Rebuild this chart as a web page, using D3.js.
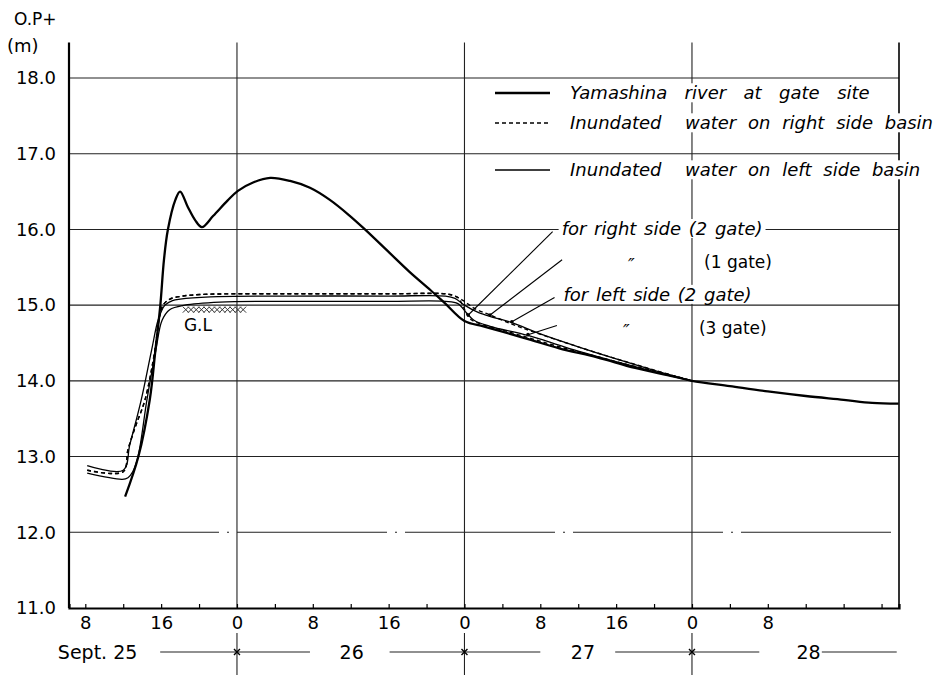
<!DOCTYPE html>
<html>
<head>
<meta charset="utf-8">
<script src="https://cdn.jsdelivr.net/npm/d3@7"></script>
<style>
  body { margin: 0; background: #fff; }
  svg { font-family: "DejaVu Sans", sans-serif; }
</style>
</head>
<body>
<svg width="939" height="675"></svg>
<script>
// time = hours counted from Sept.25 0:00, level = O.P.+ (m)
var riverH = [12.2, 13.6, 14.8, 15.4, 15.9, 16.3, 16.7, 17.5, 18.0, 18.8, 19.6, 20.3, 21.5, 23.0, 24.1, 25.7, 27.5, 29.6, 31.7, 33.8, 35.9, 37.5, 40.1, 42.2, 44.4, 45.9, 48.0, 50, 52, 55, 58, 62, 66, 70, 72, 76, 80, 84, 88, 91, 93.8];
var riverV = [12.47, 13.0, 13.75, 14.41, 14.98, 15.6, 15.99, 16.39, 16.5, 16.3, 16.12, 16.03, 16.18, 16.38, 16.51, 16.62, 16.68, 16.64, 16.55, 16.39, 16.18, 16.0, 15.69, 15.44, 15.2, 15.03, 14.79, 14.72, 14.65, 14.54, 14.43, 14.31, 14.17, 14.06, 14.0, 13.93, 13.86, 13.8, 13.75, 13.71, 13.7];

// right side basin (dashed) - rise, then two recessions
var rightRiseH = [8.2, 12.0, 12.5, 13.3, 14.3, 15.35, 15.77, 16.2, 16.93, 18.3, 20.1, 24, 30, 40, 46];
var rightRiseV = [12.82, 12.8, 13.09, 13.4, 13.75, 14.41, 14.81, 15.0, 15.08, 15.12, 15.14, 15.15, 15.15, 15.15, 15.15];
var right2FallH = [46.5, 47.3, 47.8, 48.3, 48.8, 50, 52, 55, 58, 62, 66, 70, 72];
var right2FallV = [15.14, 15.1, 15.0, 14.87, 14.8, 14.74, 14.67, 14.56, 14.45, 14.32, 14.19, 14.07, 14.0];
var right1FallH = [47, 48, 49, 50.7, 53, 55.2, 59, 63, 67, 70, 72];
var right1FallV = [15.12, 15.05, 14.96, 14.87, 14.75, 14.65, 14.49, 14.33, 14.18, 14.07, 14.0];

// left side basin (thin solid)
var leftARiseH = [8.2, 12.0, 12.7, 13.9, 15.0, 15.7, 16.4, 17.2, 18.0, 21.2, 30, 40, 46];
var leftARiseV = [12.88, 12.82, 13.16, 13.75, 14.41, 14.81, 15.0, 15.06, 15.08, 15.11, 15.12, 15.12, 15.12];
var leftCRiseH = [8.2, 11.9, 12.5, 13.0, 13.56, 14.5, 15.45, 16.1, 16.9, 18.5, 22.2, 30, 40, 46];
var leftCRiseV = [12.78, 12.7, 12.72, 12.8, 13.0, 13.75, 14.41, 14.8, 14.94, 15.0, 15.04, 15.05, 15.05, 15.05];
var left2FallH = [47, 48, 49.5, 51, 53, 56, 60, 64, 68, 72];
var left2FallV = [15.09, 15.0, 14.9, 14.84, 14.77, 14.62, 14.45, 14.29, 14.14, 14.0];
var left3FallH = [47.3, 48.2, 49, 50.7, 54.7, 59, 65, 69, 72];
var left3FallV = [15.02, 14.9, 14.8, 14.72, 14.6, 14.43, 14.22, 14.09, 14.0];

var levelTicks = [11, 12, 13, 14, 15, 16, 17, 18];
var hourTicks = d3.range(8, 93, 4);
var hourLabels = [8, 16, 24, 32, 40, 48, 56, 64, 72, 80];
var dayBreaks = [24, 48, 72];
var dayLabels = ["Sept. 25", "26", "27", "28"];
var dayLabelH = [9.3, 36.1, 60.5, 84.3];
var dayRuleH = [[15.9, 31.7], [40.1, 56], [63.9, 79.1], [85.7, 93.6]];

var glLevel = 14.98, glFrom = 18.6, glTo = 24.8;

// leader annotations: text anchor (th, tv) and pointed curve point (h, v)
var notes = [
  { text: "for right side (2 gate)", th: 57.3, tv: 15.97, h: 48.4, v: 14.87 },
  { text: "for left side (2 gate)", th: 57.5, tv: 15.1, h: 53, v: 14.78 }
];
var dittoNotes = [
  { text: "(1 gate)", th: 58.3, tv: 15.6, h: 50.7, v: 14.87 },
  { text: "(3 gate)", th: 57.75, tv: 14.73, h: 54.7, v: 14.61 }
];

var legendItems = [
  { text: "Yamashina  river  at  gate  site", kind: "river", ws: 3 },
  { text: "Inundated  water on right side basin", kind: "right", ws: 6 },
  { text: "Inundated  water on left side basin", kind: "left", ws: 6 }
];

const svg = d3.select("svg");
const x = d3.scaleLinear().domain([6.28, 93.84]).range([69, 899]);
const y = d3.scaleLinear().domain([11, 18]).range([608, 78]);
const yTop = y(18.47);

function zip(h, v) { return h.map((d, i) => [d, v[i]]); }
const line = d3.line().x(d => x(d[0])).y(d => y(d[1])).curve(d3.curveCatmullRom.alpha(0.5));

// white box behind a text so the grid stops at the lettering
function backed(sel, pad) {
  sel.each(function() {
    const b = this.getBBox();
    d3.select(this.parentNode).insert("rect", () => this)
      .attr("x", b.x - pad).attr("y", b.y + 1).attr("width", b.width + 2 * pad).attr("height", b.height - 2)
      .attr("fill", "#fff");
  });
}

// grid
svg.append("g").selectAll("line").data(levelTicks.slice(1)).join("line")
  .attr("x1", x.range()[0]).attr("x2", x.range()[1])
  .attr("y1", d => y(d)).attr("y2", d => y(d))
  .attr("stroke", "#222").attr("stroke-width", 1.1)
  .attr("stroke-dasharray", d => d === 12 ? "150,8,2,8" : null);
svg.append("g").selectAll("line").data(dayBreaks).join("line")
  .attr("x1", d => x(d)).attr("x2", d => x(d))
  .attr("y1", yTop).attr("y2", y(11))
  .attr("stroke", "#222").attr("stroke-width", 1.1);

// frame
svg.append("line").attr("x1", x.range()[0]).attr("x2", x.range()[0]).attr("y1", yTop).attr("y2", y(11))
  .attr("stroke", "#000").attr("stroke-width", 2.2);
svg.append("line").attr("x1", x.range()[1]).attr("x2", x.range()[1]).attr("y1", yTop).attr("y2", y(11))
  .attr("stroke", "#000").attr("stroke-width", 1.6);

// axes
const xAxis = svg.append("g").attr("transform", `translate(0,${y(11)})`)
  .call(d3.axisBottom(x).tickValues(hourTicks).tickSize(-4).tickPadding(8)
    .tickFormat(d => hourLabels.includes(d) ? String(d % 24) : ""));
xAxis.select(".domain").attr("stroke-width", 2.2);
xAxis.selectAll(".tick line").attr("stroke-width", 1.2);
xAxis.selectAll("text").attr("font-size", 18).attr("font-family", "DejaVu Sans").attr("fill", "#000");

const yAxis = svg.append("g").attr("transform", `translate(${x.range()[0]},0)`)
  .call(d3.axisLeft(y).tickValues(levelTicks).tickSize(0).tickPadding(13).tickFormat(d3.format(".1f")));
yAxis.select(".domain").remove();
yAxis.selectAll("text").attr("font-size", 18).attr("font-family", "DejaVu Sans").attr("fill", "#000");

svg.append("text").attr("x", 14).attr("y", 25).attr("font-size", 17).text("O.P+");
svg.append("text").attr("x", 7).attr("y", 52).attr("font-size", 18).text("(m)");

// date row
const dateY = 652;
svg.append("g").selectAll("line").data(dayRuleH).join("line")
  .attr("x1", d => x(d[0])).attr("x2", d => x(d[1])).attr("y1", dateY).attr("y2", dateY)
  .attr("stroke", "#222").attr("stroke-width", 1.1);
svg.append("g").selectAll("line").data(dayBreaks).join("line")
  .attr("x1", d => x(d)).attr("x2", d => x(d)).attr("y1", 633).attr("y2", 675)
  .attr("stroke", "#222").attr("stroke-width", 1.1);
svg.append("g").selectAll("path").data(dayBreaks).join("path")
  .attr("d", d => `M${x(d) - 3},${dateY - 3}L${x(d) + 3},${dateY + 3}M${x(d) - 3},${dateY + 3}L${x(d) + 3},${dateY - 3}`)
  .attr("stroke", "#000").attr("stroke-width", 1.4);
svg.append("g").selectAll("text").data(dayLabels).join("text")
  .attr("x", (d, i) => x(dayLabelH[i])).attr("y", dateY).attr("dy", "0.35em")
  .attr("text-anchor", "middle").attr("font-size", 19).text(d => d);

// ground level hatch
const gl = svg.append("g");
gl.append("path")
  .attr("d", d3.range(glFrom, glTo, 0.55).map(h => {
    const cx = x(h), cy = y(glLevel) + 3;
    return `M${cx - 3},${cy - 3}L${cx + 3},${cy + 3}M${cx - 3},${cy + 3}L${cx + 3},${cy - 3}`;
  }).join(""))
  .attr("stroke", "#333").attr("stroke-width", 1);
gl.append("text").attr("x", x(18.4)).attr("y", y(glLevel) + 24).attr("font-size", 17).text("G.L");

// curves
const curves = [
  { pts: zip(rightRiseH, rightRiseV).concat(zip(right2FallH, right2FallV)), kind: "right" },
  { pts: zip(rightRiseH, rightRiseV).concat(zip(right1FallH, right1FallV)), kind: "right" },
  { pts: zip(leftARiseH, leftARiseV).concat(zip(left2FallH, left2FallV)), kind: "left" },
  { pts: zip(leftCRiseH, leftCRiseV).concat(zip(left3FallH, left3FallV)), kind: "left" },
  { pts: zip(riverH, riverV), kind: "river" }
];
const style = {
  river: { w: 2.3, dash: null },
  right: { w: 1.4, dash: "4,3" },
  left: { w: 1.3, dash: null }
};
svg.append("g").selectAll("path").data(curves).join("path")
  .attr("d", d => line(d.pts))
  .attr("fill", "none").attr("stroke", "#000")
  .attr("stroke-width", d => style[d.kind].w)
  .attr("stroke-dasharray", d => style[d.kind].dash);

// legend
const lg = svg.append("g");
legendItems.forEach((d, i) => {
  const ly = [93, 123, 170][i];
  lg.append("line").attr("x1", 495).attr("x2", 550).attr("y1", ly).attr("y2", ly)
    .attr("stroke", "#000").attr("stroke-width", style[d.kind].w).attr("stroke-dasharray", style[d.kind].dash);
  lg.append("text").attr("x", 570).attr("y", ly).attr("dy", "0.35em")
    .attr("font-size", 18).attr("font-style", "italic").attr("word-spacing", d.ws)
    .attr("xml:space", "preserve").style("white-space", "pre").text(d.text);
});
backed(lg.selectAll("text"), 4);

// annotations
const an = svg.append("g");
an.selectAll("line").data(notes.concat(dittoNotes)).join("line")
  .attr("x1", d => x(d.th)).attr("y1", d => y(d.tv)).attr("x2", d => x(d.h)).attr("y2", d => y(d.v))
  .attr("stroke", "#000").attr("stroke-width", 1.1);
an.selectAll("circle").data(notes.concat(dittoNotes)).join("circle")
  .attr("cx", d => x(d.h)).attr("cy", d => y(d.v)).attr("r", 1.8).attr("fill", "#000");
const nt = svg.append("g");
nt.selectAll("text.note").data(notes).join("text").attr("class", "note")
  .attr("x", d => x(d.th) + 9).attr("y", d => y(d.tv) - 3).attr("dy", "0.35em")
  .attr("font-size", 18).attr("font-style", "italic").attr("word-spacing", 2).text(d => d.text);
nt.selectAll("text.ditto").data(dittoNotes).join("text").attr("class", "ditto")
  .attr("x", d => x(d.th) + 66).attr("y", d => y(d.tv) + 5).attr("dy", "0.35em")
  .attr("font-size", 18).attr("font-style", "italic").text("\u2033");
nt.selectAll("text.gate").data(dittoNotes).join("text").attr("class", "gate")
  .attr("x", d => x(d.th) + 142).attr("y", d => y(d.tv) + 2).attr("dy", "0.35em")
  .attr("font-size", 17).text(d => d.text);
backed(nt.selectAll("text"), 3);
</script>
</body>
</html>
